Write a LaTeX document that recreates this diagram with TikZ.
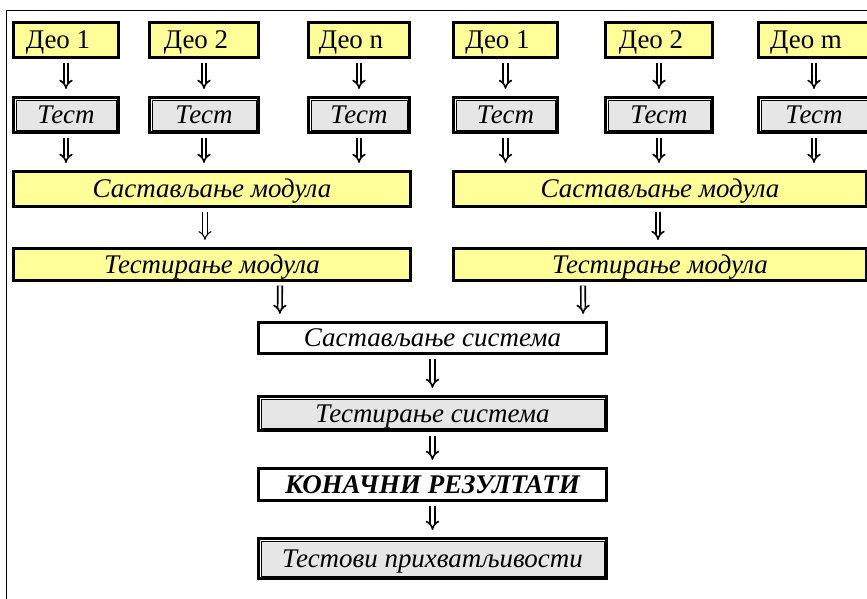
\documentclass[tikz,border=0pt]{standalone}
\usepackage{fontspec}
\setmainfont{Liberation Serif}
\usetikzlibrary{arrows.meta,calc}

\definecolor{boxyellow}{RGB}{255,255,153}
\definecolor{boxgray}{RGB}{230,230,230}
\newcommand{\diagfont}{\fontsize{23}{27}\selectfont}

\begin{document}
\begin{tikzpicture}[
        x=0.03cm, y=-0.03cm, % one unit = one pixel of the page
        every node/.style={font=\diagfont, inner sep=0pt, align=center, text height=15.2pt, text depth=0pt},
        deo/.style={draw, line width=2.4pt, fill=boxyellow, minimum width=#1, minimum height=1.06cm, execute at end node={\hspace*{0.48cm}}},
        testbox/.style={draw, line width=2.4pt, fill=boxgray, minimum width=#1, minimum height=1.06cm, font=\diagfont\itshape,
            path picture={
                \draw[white, line width=4.4pt] (path picture bounding box.north west) rectangle (path picture bounding box.south east);
                \draw[line width=0.6pt] ([shift={(2.3pt,-2.3pt)}]path picture bounding box.north west) rectangle ([shift={(-2.3pt,2.3pt)}]path picture bounding box.south east);
            }},
        modbox/.style={draw, line width=2.4pt, fill=boxyellow, minimum width=#1, font=\diagfont\itshape},
        sysbox/.style={draw, line width=2.4pt, fill=white, minimum width=10.45cm, font=\diagfont\itshape},
        dn/.style={draw, double=white, double distance=2.4pt, line width=1.4pt, -{Implies[scale=1.8]}, shorten <=3pt, shorten >=6pt},
        dnthin/.style={dn, line width=0.9pt, double distance=3pt}
    ]
    \useasboundingbox (0,0) rectangle (867,599);
    % frame
    \draw[line width=1.6pt] (6.5,700) |- (950,10.5);

    % parts
    \node[deo=3.16cm] (d1) at (66,40) {Део 1};
    \node[deo=3.28cm] (d2) at (204,40) {Део 2};
    \node[deo=3.04cm] (d3) at (359,40) {Део n};
    \node[deo=3.13cm] (d4) at (505.5,40) {Део 1};
    \node[deo=3.22cm] (d5) at (659,40) {Део 2};
    \node[deo=3.34cm] (d6) at (814,40) {Део m};

    % unit tests
    \node[testbox=3.16cm] (t1) at (66,115) {Тест};
    \node[testbox=3.28cm] (t2) at (204,115) {Тест};
    \node[testbox=3.04cm] (t3) at (359,115) {Тест};
    \node[testbox=3.13cm] (t4) at (505.5,115) {Тест};
    \node[testbox=3.22cm] (t5) at (659,115) {Тест};
    \node[testbox=3.34cm] (t6) at (814,115) {Тест};

    % modules
    \node[modbox=11.92cm, minimum height=1.06cm] (sm1) at (212,189) {Састављање модула};
    \node[modbox=12.4cm, minimum height=1.06cm] (sm2) at (660,189) {Састављање модула};
    \node[modbox=11.92cm, minimum height=0.97cm] (tm1) at (212,264.5) {Тестирање модула};
    \node[modbox=12.4cm, minimum height=0.97cm] (tm2) at (660,264.5) {Тестирање модула};

    % system
    \node[sysbox, minimum height=0.94cm] (ss) at (432.5,338) {Састављање система};
    \node[testbox=10.45cm, minimum height=1.03cm] (ts) at (432.5,413.5) {Тестирање система};
    \node[sysbox, minimum height=0.97cm, font=\diagfont\bfseries\itshape] (kr) at (432.5,484.5) {КОНАЧНИ РЕЗУЛТАТИ};
    \node[testbox=10.45cm, minimum height=1.21cm] (tp) at (432.5,558.5) {Тестови прихватљивости};

    % arrows
    \foreach \i in {1,...,6} {
        \draw[dn] (d\i) -- (t\i);
    }
    \foreach \i in {1,2,3} {
        \draw[dn] (t\i) -- (t\i |- sm1.north);
    }
    \foreach \i in {4,5,6} {
        \draw[dn] (t\i) -- (t\i |- sm2.north);
    }
    \draw[dnthin] ([xshift=-0.21cm]sm1.south) -- ([xshift=-0.21cm]tm1.north);
    \draw[dn] ([xshift=-0.06cm]sm2.south) -- ([xshift=-0.06cm]tm2.north);
    \draw[dn] ([xshift=2.04cm]tm1.south) -- ([xshift=-4.58cm]ss.north);
    \draw[dn] ([xshift=-2.31cm]tm2.south) -- ([xshift=4.52cm]ss.north);
    \draw[dn] (ss) -- (ts);
    \draw[dn] (ts) -- (kr);
    \draw[dn] (kr) -- (tp);
\end{tikzpicture}
\end{document}
